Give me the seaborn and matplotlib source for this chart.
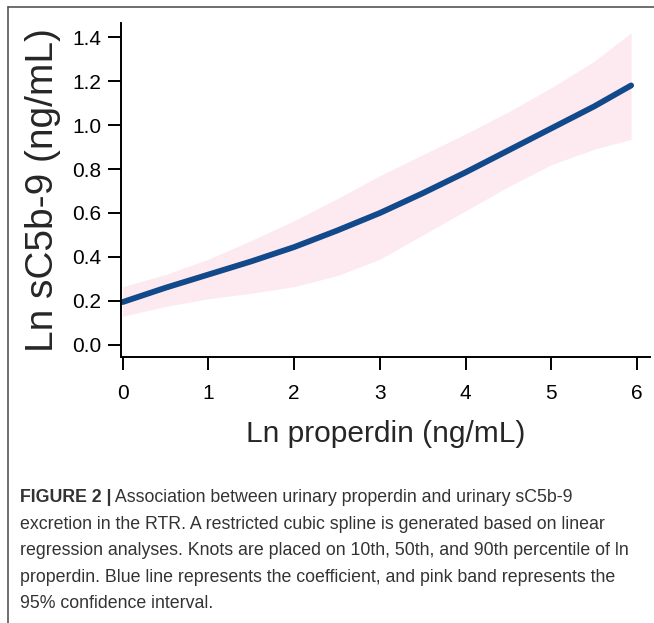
import numpy as np
import pandas as pd
import matplotlib
matplotlib.use("Agg")
import matplotlib.pyplot as plt
import seaborn as sns
from matplotlib.lines import Line2D

# values
ln_properdin = [0.0, 0.5, 1.0, 1.5, 2.0, 2.5, 3.0, 3.5, 4.0, 4.5, 5.0, 5.5, 5.93]
coef = [0.195, 0.26, 0.32, 0.38, 0.445, 0.52, 0.60, 0.69, 0.785, 0.885, 0.985, 1.085, 1.18]
ci_upper = [0.265, 0.32, 0.39, 0.475, 0.565, 0.665, 0.77, 0.865, 0.96, 1.06, 1.17, 1.29, 1.42]
ci_lower = [0.13, 0.175, 0.21, 0.235, 0.265, 0.315, 0.39, 0.50, 0.61, 0.72, 0.82, 0.89, 0.935]

x_ticks = [0, 1, 2, 3, 4, 5, 6]
y_ticks = [0.0, 0.2, 0.4, 0.6, 0.8, 1.0, 1.2, 1.4]

caption_bold = "FIGURE 2 |"
caption_lines = [
    " Association between urinary properdin and urinary sC5b-9",
    "excretion in the RTR. A restricted cubic spline is generated based on linear",
    "regression analyses. Knots are placed on 10th, 50th, and 90th percentile of ln",
    "properdin. Blue line represents the coefficient, and pink band represents the",
    "95% confidence interval.",
]

df = pd.DataFrame({"x": ln_properdin, "y": coef, "lo": ci_lower, "hi": ci_upper})

sns.set_style("ticks")
plt.rcParams['font.family'] = ['Liberation Sans', 'DejaVu Sans']

fig = plt.figure(figsize=(6.54, 6.23), dpi=100)
ax = fig.add_axes([121 / 654, 1 - 357 / 623, (650 - 121) / 654, (357 - 23) / 623])

ax.fill_between(df["x"], df["lo"], df["hi"], color="#fdeaf0", linewidth=0)
sns.lineplot(data=df, x="x", y="y", ax=ax, color="#11498a", linewidth=4.2,
             solid_capstyle="round")

ax.set_xlim(-0.02, 6.15)
ax.set_ylim(-0.055, 1.464)
ax.set_xticks(x_ticks)
ax.set_yticks(y_ticks)
ax.set_xticklabels([str(t) for t in x_ticks])
ax.set_yticklabels([f"{t:.1f}" for t in y_ticks])
ax.tick_params(axis="both", length=9.4, width=1.4, labelsize=15, colors="black")
ax.tick_params(axis="x", pad=10)
ax.tick_params(axis="y", pad=5)
for side in ["left", "bottom"]:
    ax.spines[side].set_linewidth(1.4)
    ax.spines[side].set_color("black")
sns.despine(ax=ax)

ax.set_xlabel("Ln properdin (ng/mL)", fontsize=21.5, labelpad=12)
ax.set_ylabel("Ln sC5b-9 (ng/mL)", fontsize=28, labelpad=8)

# frame lines of the figure panel
fig.add_artist(Line2D([8 / 654, 8 / 654], [0, 1 - 7 / 623], color="#555555",
                      linewidth=1.2, transform=fig.transFigure))
fig.add_artist(Line2D([8 / 654, 1], [1 - 7 / 623, 1 - 7 / 623], color="#555555",
                      linewidth=1.2, transform=fig.transFigure))

# caption (baselines in pixels from the top)
cap_color = "#333333"
cap_size = 12.8
line_y = [502, 529, 555, 582, 608]
bold = fig.text(20 / 654, 1 - line_y[0] / 623, caption_bold, fontsize=cap_size,
                fontweight="bold", color=cap_color, va="baseline")
fig.canvas.draw()
ext = bold.get_window_extent()
fig.text(ext.x1 / fig.bbox.width, 1 - line_y[0] / 623, caption_lines[0],
         fontsize=cap_size, color=cap_color, va="baseline")
for yy, txt in zip(line_y[1:], caption_lines[1:]):
    fig.text(20 / 654, 1 - yy / 623, txt, fontsize=cap_size, color=cap_color, va="baseline")

fig.savefig("out.png", dpi=100)
